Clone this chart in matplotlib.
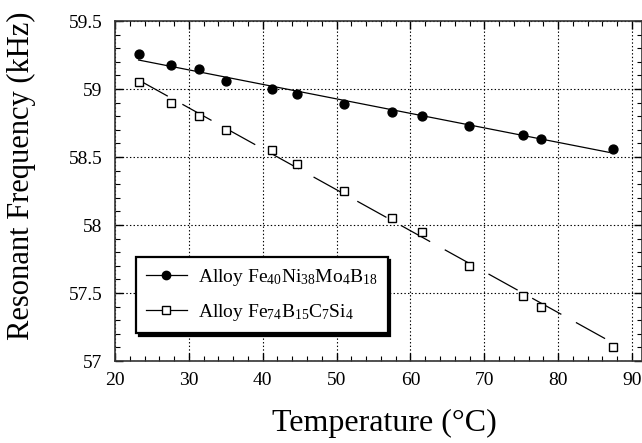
import matplotlib
matplotlib.use("Agg")
import matplotlib.pyplot as plt
from matplotlib.lines import Line2D
from matplotlib.ticker import MultipleLocator, FormatStrFormatter

# ---- data ----
temp = [23.2, 27.6, 31.4, 35.0, 41.2, 44.6, 51.0, 57.5, 61.6, 67.9, 75.2, 77.7, 87.4]
freq_fenimob = [59.26, 59.18, 59.15, 59.06, 59.00, 58.96, 58.89, 58.83, 58.80, 58.73, 58.66, 58.63, 58.56]
freq_febcsi = [59.05, 58.90, 58.80, 58.70, 58.55, 58.45, 58.25, 58.05, 57.95, 57.70, 57.48, 57.40, 57.10]

# linear fit lines (end points)
fit_t_1 = [23.2, 86.9]
fit_f_1 = [59.213, 58.534]
fit_t_2 = [23.2, 87.1]
fit_f_2 = [59.066, 57.142]

label_1 = r'Alloy Fe$_{40}$Ni$_{38}$Mo$_4$B$_{18}$'
label_2 = r'Alloy Fe$_{74}$B$_{15}$C$_7$Si$_4$'

plt.rcParams['font.family'] = ['Liberation Serif', 'DejaVu Serif']
plt.rcParams['mathtext.fontset'] = 'custom'
plt.rcParams['mathtext.rm'] = 'Liberation Serif'
plt.rcParams['mathtext.it'] = 'Liberation Serif'
plt.rcParams['mathtext.default'] = 'rm'
plt.rcParams['lines.scale_dashes'] = False

fig = plt.figure(figsize=(6.42, 4.43), dpi=100)
ax = fig.add_axes([115 / 642, 1 - 361 / 443, 527 / 642, 340 / 443])

dash = (0, (24, 12))
ax.plot(fit_t_1, fit_f_1, color='black', lw=0.9)
ax.plot(fit_t_2, fit_f_2, color='black', lw=0.9, linestyle=dash)
ax.plot(temp, freq_fenimob, 'o', color='black', ms=6.4, zorder=3)
ax.plot(temp, freq_febcsi, 's', mfc='white', mec='black', mew=1.0, ms=6.0, zorder=3)

ax.set_xlim(20, 91.35)
ax.set_ylim(57, 59.5)
ax.xaxis.set_major_locator(MultipleLocator(10))
ax.xaxis.set_minor_locator(MultipleLocator(2))
ax.yaxis.set_major_locator(MultipleLocator(0.5))
ax.yaxis.set_minor_locator(MultipleLocator(0.1))
ax.yaxis.set_major_formatter(FormatStrFormatter('%g'))

ax.grid(True, which='major', color='black', linestyle=(0, (1, 1.6)), lw=0.8)
ax.tick_params(which='both', direction='in', top=True, right=True, labelsize=14, colors='black')
ax.tick_params(which='major', length=6, width=1)
ax.tick_params(which='minor', length=3.5, width=0.8)
ax.tick_params(axis='y', pad=9)
ax.tick_params(axis='x', pad=8)
for sp in ax.spines.values():
    sp.set_color('#333333')
    sp.set_linewidth(1.2)

ax.set_xlabel('Temperature (°C)', fontsize=23)
ax.xaxis.set_label_coords(0.511, -0.14)
ax.set_ylabel('Resonant Frequency (kHz)', fontsize=22)
ax.yaxis.set_label_coords(-0.15, 0.544)

handles = [
    Line2D([], [], color='black', lw=0.9, marker='o', ms=6, label=label_1),
    Line2D([], [], color='black', lw=0.9, marker='s', mfc='white', mec='black', ms=5.5, label=label_2),
]
leg = ax.legend(handles=handles, loc='upper left', bbox_to_anchor=(0.04, 0.306),
                borderaxespad=0, fontsize=14, numpoints=1, handlelength=2.1,
                handletextpad=0.6, fancybox=False, framealpha=1, edgecolor='black',
                labelspacing=0.75, borderpad=0.5, shadow={'color': 'black', 'alpha': 1})
leg.get_frame().set_linewidth(1.6)

fig.savefig('out.png', dpi=100)
